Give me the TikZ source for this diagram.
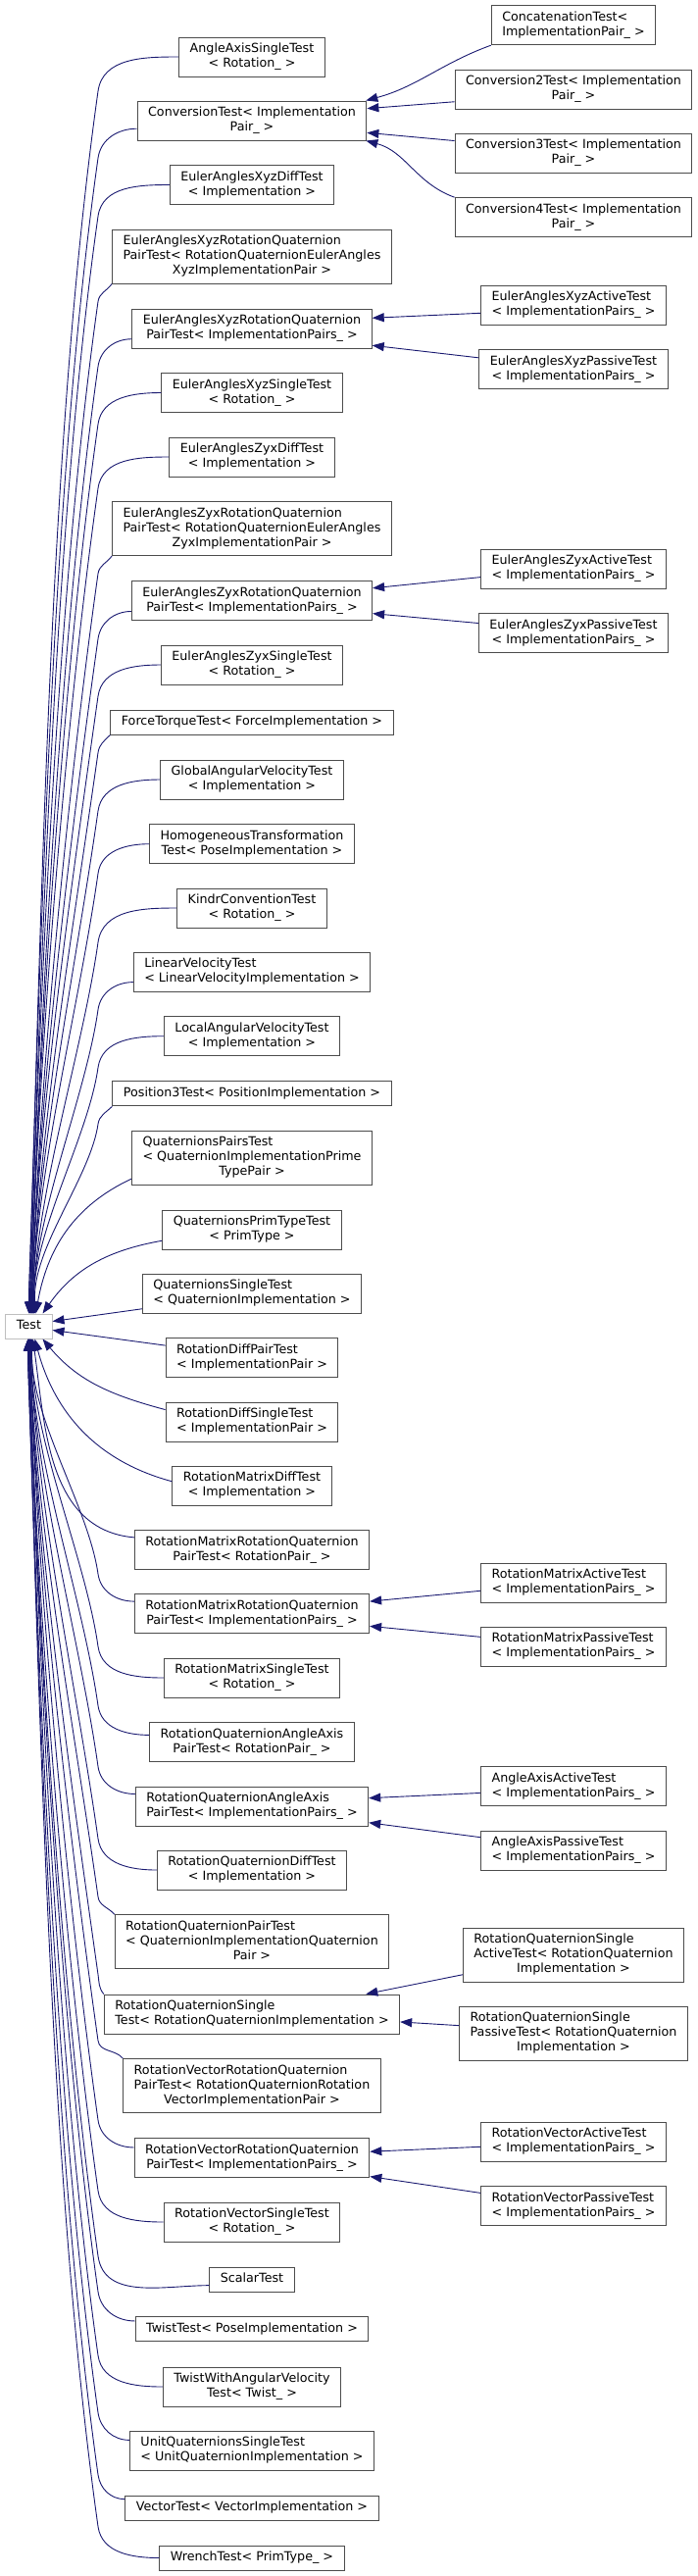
\documentclass[tikz,border=0pt]{standalone}
\usepackage{fontspec}
\setmainfont{DejaVu Sans}
\usetikzlibrary{arrows.meta,calc}
\definecolor{midnight}{HTML}{191970}
\newcommand{\twolines}[2]{\begin{tabular}{@{}l@{}}#1\\\multicolumn{1}{@{}c@{}}{#2}\end{tabular}}

\begin{document}
\begin{tikzpicture}[x=1pt,y=1pt,
    cls/.style={draw=black!70,line width=1pt,fill=white,inner xsep=11pt,inner ysep=5pt,
      font=\fontsize{12.7}{15}\selectfont,execute at begin node=\strut},
    rootcls/.style={cls,draw=black!25},
    inherit/.style={draw=midnight,line width=0.9pt,-{Triangle[length=12pt,width=9pt,fill=midnight]}}]
        \useasboundingbox (0,0) rectangle (712,-2627);
        \coordinate (kx) at (100,0);
        \node[rootcls] (test) at (29.5,-1352.5) {Test};
        % middle column
        \node[cls] (aas) at (257,-58) {\twolines{AngleAxisSingleTest}{< Rotation\_ >}};
        \node[cls] (conv) at (257,-123) {\twolines{ConversionTest< Implementation}{Pair\_ >}};
        \node[cls] (exdiff) at (257,-188.5) {\twolines{EulerAnglesXyzDiffTest}{< Implementation >}};
        \node[cls] (exrqp) at (257,-261.5) {\twolines{EulerAnglesXyzRotationQuaternion\\PairTest< RotationQuaternionEulerAngles}{XyzImplementationPair >}};
        \node[cls] (exrqps) at (257,-335) {\twolines{EulerAnglesXyzRotationQuaternion}{PairTest< ImplementationPairs\_ >}};
        \node[cls] (exsingle) at (257,-400.5) {\twolines{EulerAnglesXyzSingleTest}{< Rotation\_ >}};
        \node[cls] (ezdiff) at (257,-466) {\twolines{EulerAnglesZyxDiffTest}{< Implementation >}};
        \node[cls] (ezrqp) at (257,-539) {\twolines{EulerAnglesZyxRotationQuaternion\\PairTest< RotationQuaternionEulerAngles}{ZyxImplementationPair >}};
        \node[cls] (ezrqps) at (257,-612.7) {\twolines{EulerAnglesZyxRotationQuaternion}{PairTest< ImplementationPairs\_ >}};
        \node[cls] (ezsingle) at (257,-678) {\twolines{EulerAnglesZyxSingleTest}{< Rotation\_ >}};
        \node[cls] (ftt) at (257,-736.5) {ForceTorqueTest< ForceImplementation >};
        \node[cls] (gav) at (257,-795) {\twolines{GlobalAngularVelocityTest}{< Implementation >}};
        \node[cls] (ht) at (257,-860.7) {\twolines{HomogeneousTransformation}{Test< PoseImplementation >}};
        \node[cls] (kc) at (257,-926) {\twolines{KindrConventionTest}{< Rotation\_ >}};
        \node[cls] (lv) at (257,-991) {\twolines{LinearVelocityTest}{< LinearVelocityImplementation >}};
        \node[cls] (lav) at (257,-1056.7) {\twolines{LocalAngularVelocityTest}{< Implementation >}};
        \node[cls] (p3) at (257,-1115.3) {Position3Test< PositionImplementation >};
        \node[cls] (qp) at (257,-1180.5) {\twolines{QuaternionsPairsTest\\< QuaternionImplementationPrime}{TypePair >}};
        \node[cls] (qpt) at (257,-1254) {\twolines{QuaternionsPrimTypeTest}{< PrimType >}};
        \node[cls] (qs) at (257,-1319) {\twolines{QuaternionsSingleTest}{< QuaternionImplementation >}};
        \node[cls] (rdp) at (257,-1384.5) {\twolines{RotationDiffPairTest}{< ImplementationPair >}};
        \node[cls] (rds) at (257,-1450) {\twolines{RotationDiffSingleTest}{< ImplementationPair >}};
        \node[cls] (rmd) at (257,-1515) {\twolines{RotationMatrixDiffTest}{< Implementation >}};
        \node[cls] (rmrqp) at (257,-1580.5) {\twolines{RotationMatrixRotationQuaternion}{PairTest< RotationPair\_ >}};
        \node[cls] (rmrqps) at (257,-1645.7) {\twolines{RotationMatrixRotationQuaternion}{PairTest< ImplementationPairs\_ >}};
        \node[cls] (rms) at (257,-1711) {\twolines{RotationMatrixSingleTest}{< Rotation\_ >}};
        \node[cls] (rqaap) at (257,-1776.7) {\twolines{RotationQuaternionAngleAxis}{PairTest< RotationPair\_ >}};
        \node[cls] (rqaaps) at (257,-1842) {\twolines{RotationQuaternionAngleAxis}{PairTest< ImplementationPairs\_ >}};
        \node[cls] (rqd) at (257,-1907) {\twolines{RotationQuaternionDiffTest}{< Implementation >}};
        \node[cls] (rqp) at (257,-1980.3) {\twolines{RotationQuaternionPairTest\\< QuaternionImplementationQuaternion}{Pair >}};
        \node[cls] (rqs) at (257,-2054) {\twolines{RotationQuaternionSingle}{Test< RotationQuaternionImplementation >}};
        \node[cls] (rvrqp) at (257,-2127) {\twolines{RotationVectorRotationQuaternion\\PairTest< RotationQuaternionRotation}{VectorImplementationPair >}};
        \node[cls] (rvrqps) at (257,-2200.5) {\twolines{RotationVectorRotationQuaternion}{PairTest< ImplementationPairs\_ >}};
        \node[cls] (rvs) at (257,-2266) {\twolines{RotationVectorSingleTest}{< Rotation\_ >}};
        \node[cls] (sc) at (257,-2324.5) {ScalarTest};
        \node[cls] (tw) at (257,-2375.3) {TwistTest< PoseImplementation >};
        \node[cls] (twav) at (257,-2434) {\twolines{TwistWithAngularVelocity}{Test< Twist\_ >}};
        \node[cls] (uq) at (257,-2499.3) {\twolines{UnitQuaternionsSingleTest}{< UnitQuaternionImplementation >}};
        \node[cls] (vt) at (257,-2557.7) {VectorTest< VectorImplementation >};
        \node[cls] (wr) at (257,-2608.5) {WrenchTest< PrimType\_ >};
        % right column
        \node[cls] (conc) at (585,-25.7) {\twolines{ConcatenationTest<}{ImplementationPair\_ >}};
        \node[cls] (conv2) at (585,-91) {\twolines{Conversion2Test< Implementation}{Pair\_ >}};
        \node[cls] (conv3) at (585,-156.3) {\twolines{Conversion3Test< Implementation}{Pair\_ >}};
        \node[cls] (conv4) at (585,-221.7) {\twolines{Conversion4Test< Implementation}{Pair\_ >}};
        \node[cls] (xa) at (585,-311) {\twolines{EulerAnglesXyzActiveTest}{< ImplementationPairs\_ >}};
        \node[cls] (xp) at (585,-376.7) {\twolines{EulerAnglesXyzPassiveTest}{< ImplementationPairs\_ >}};
        \node[cls] (za) at (585,-580.3) {\twolines{EulerAnglesZyxActiveTest}{< ImplementationPairs\_ >}};
        \node[cls] (zp) at (585,-645.7) {\twolines{EulerAnglesZyxPassiveTest}{< ImplementationPairs\_ >}};
        \node[cls] (rma) at (585,-1614) {\twolines{RotationMatrixActiveTest}{< ImplementationPairs\_ >}};
        \node[cls] (rmp) at (585,-1679.3) {\twolines{RotationMatrixPassiveTest}{< ImplementationPairs\_ >}};
        \node[cls] (aaa) at (585,-1821.8) {\twolines{AngleAxisActiveTest}{< ImplementationPairs\_ >}};
        \node[cls] (aap) at (585,-1887) {\twolines{AngleAxisPassiveTest}{< ImplementationPairs\_ >}};
        \node[cls] (rqsa) at (585,-1993.8) {\twolines{RotationQuaternionSingle\\ActiveTest< RotationQuaternion}{Implementation >}};
        \node[cls] (rqsp) at (585,-2073.8) {\twolines{RotationQuaternionSingle\\PassiveTest< RotationQuaternion}{Implementation >}};
        \node[cls] (rva) at (585,-2184.3) {\twolines{RotationVectorActiveTest}{< ImplementationPairs\_ >}};
        \node[cls] (rvp) at (585,-2249.7) {\twolines{RotationVectorPassiveTest}{< ImplementationPairs\_ >}};
        % classes above Test
        \foreach \nm/\an/\ou/\dk/\tx in {aas/west/180/35/0, conv/184/180/30/0, exdiff/west/180/32/1,
            exrqp/south west/235/18/1, exrqps/185/180/28/2, exsingle/west/180/32/2,
            ezdiff/west/180/32/2, ezrqp/south west/235/18/3, ezrqps/185/180/28/3,
            ezsingle/west/180/32/3, ftt/south west/225/18/4, gav/west/180/32/4,
            ht/west/180/30/4, kc/west/180/35/5, lv/185/180/28/5, lav/west/180/32/5,
            p3/south west/225/18/6} {
          \coordinate (s) at (\nm.\an);
          \draw[inherit] let \p1=(s), \n1={0.3*(\y1-\dk+1319.5)} in
            (s) to[out=\ou,in=82] ($(s -| kx)+(0,-\dk)$)
            .. controls +(-98:\n1) and +(88:\n1) .. ($(test.north)+(\tx,20)$) -- ($(test.north)+(\tx,0)$);
        }
        \draw[inherit] (qp.190) to[out=205,in=80] ($(test.north)+(7,0)$);
        \draw[inherit] (qpt.187) to[out=190,in=55] ($(test.north)+(14,0)$);
        \draw[inherit] (qs.188) -- ($(test.east)+(0,5)$);
        \draw[inherit] (rdp.172) -- ($(test.east)+(0,-4)$);
        \draw[inherit] (rds.172) to[out=165,in=-50] ($(test.south)+(14,0)$);
        \draw[inherit] (rmd.177) to[out=165,in=-75] ($(test.south)+(6,0)$);
        \draw[inherit] (rmrqp.174) to[out=175,in=-82] ($(test.south)+(4,0)$);
        % classes below Test
        \foreach \nm/\an/\ou/\dk/\tx in {rmrqps/174/180/28/3, rms/west/180/32/3, rqaap/176/180/30/2,
            rqaaps/174/180/28/2, rqd/west/180/32/2, rqp/north west/130/18/1,
            rqs/north west/130/20/1, rvrqp/north west/130/18/1, rvrqps/175/180/28/1,
            rvs/west/180/32/0, sc/188/180/30/0, tw/176/180/30/0, twav/west/180/32/0,
            uq/175/180/28/-1, vt/176/180/25/-1, wr/west/180/32/-1} {
          \coordinate (s) at (\nm.\an);
          \draw[inherit] let \p1=(s), \n1={0.3*(-\y1-\dk-1385.5)} in
            (s) to[out=\ou,in=-82] ($(s -| kx)+(0,\dk)$)
            .. controls +(98:\n1) and +(-88:\n1) .. ($(test.south)+(\tx,-20)$) -- ($(test.south)+(\tx,0)$);
        }
        % second level
        \draw[inherit] (conc.south west) to[out=200,in=15] (conv.10);
        \draw[inherit] (conv2.186) -- (conv.6);
        \draw[inherit] (conv3.174) -- (conv.-6);
        \draw[inherit] (conv4.north west) to[out=160,in=-15] (conv.-10);
        \draw[inherit] (xa.185) -- (exrqps.5);
        \draw[inherit] (xp.173) -- (exrqps.-8);
        \draw[inherit] (za.185) -- (ezrqps.6);
        \draw[inherit] (zp.174) -- (ezrqps.-6);
        \draw[inherit] (rma.185) -- (rmrqps.6);
        \draw[inherit] (rmp.174) -- (rmrqps.-6);
        \draw[inherit] (aaa.184) -- (rqaaps.4);
        \draw[inherit] (aap.172) -- (rqaaps.-8);
        \draw[inherit] (rqsa.190) -- (rqs.10);
        \draw[inherit] (rqsp.176) -- (rqs.-3);
        \draw[inherit] (rva.183) -- (rvrqps.3);
        \draw[inherit] (rvp.172) -- (rvrqps.-9);
      \end{tikzpicture}
\end{document}
